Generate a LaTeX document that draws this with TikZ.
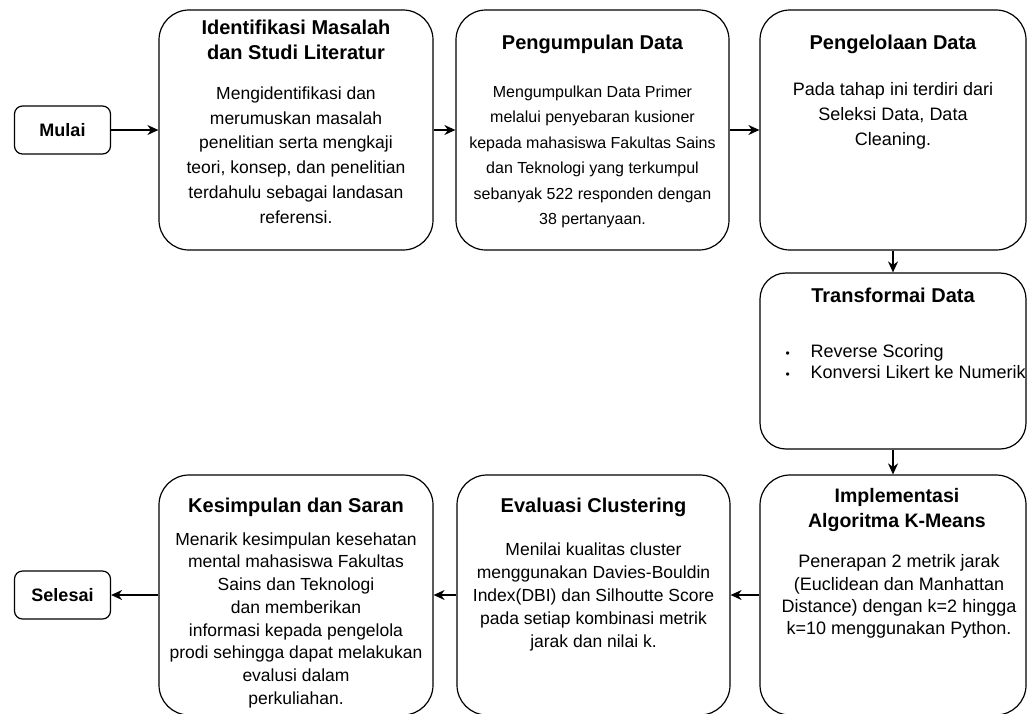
\documentclass[tikz,border=0pt]{standalone}
\usepackage{fontspec}
\setmainfont{Liberation Sans}
\usetikzlibrary{positioning,arrows.meta}

\begin{document}
\begin{tikzpicture}[x=1pt,y=-1pt,>={Stealth[length=11pt,width=10pt,inset=3.5pt]},
	tahap/.style={draw, line width=1.2pt, rounded corners=30pt, inner sep=0pt, minimum width=273pt, minimum height=240pt},
	ujung/.style={draw, line width=1.2pt, rounded corners=8pt, minimum width=96pt, minimum height=48pt, font=\fontsize{18}{20}\selectfont\bfseries},
	judul/.style={align=center, inner sep=0pt, font=\fontsize{20}{25}\selectfont\bfseries},
	isi/.style={align=center, inner sep=0pt, font=\fontsize{17.5}{#1}\selectfont},
	panah/.style={->, line width=1.2pt}]
	\useasboundingbox (0,0) rectangle (1027,713);

	% kotak-kotak
	\node[ujung] (mulai) at (62.5,130) {Mulai};
	\node[tahap, minimum width=274pt] (identifikasi) at (296,130) {};
	\node[tahap] (pengumpulan) at (592.5,130) {};
	\node[tahap, minimum width=266pt] (pengelolaan) at (893,130) {};
	\node[tahap, minimum width=266pt, minimum height=176pt, rounded corners=26pt] (transformasi) at (893,361) {};
	\node[tahap, minimum width=266pt] (implementasi) at (893,595) {};
	\node[tahap] (evaluasi) at (593.5,595) {};
	\node[tahap, minimum width=274pt] (kesimpulan) at (296,595) {};
	\node[ujung] (selesai) at (62.5,595) {Selesai};

	% teks
	\node[judul, below=10.8pt of identifikasi.north] (identifikasi-j) {Identifikasi Masalah\\dan Studi Literatur};
	\node[isi=24.8pt, below=77pt of identifikasi.north] (identifikasi-i) {Mengidentifikasi dan\\merumuskan masalah\\penelitian serta mengkaji\\teori, konsep, dan penelitian\\terdahulu sebagai landasan\\referensi.};
	\node[judul, below=25.8pt of pengumpulan.north] (pengumpulan-j) {Pengumpulan Data};
	\node[isi=25.4pt, font=\fontsize{16}{25.4}\selectfont, below=76.3pt of pengumpulan.north] (pengumpulan-i) {Mengumpulkan Data Primer\\melalui penyebaran kusioner\\kepada mahasiswa Fakultas Sains\\dan Teknologi yang terkumpul\\sebanyak 522 responden dengan\\38 pertanyaan.};
	\node[judul, below=25.8pt of pengelolaan.north] (pengelolaan-j) {Pengelolaan Data};
	\node[isi=25pt, font=\fontsize{18}{25}\selectfont, below=73pt of pengelolaan.north] (pengelolaan-i) {Pada tahap ini terdiri dari\\Seleksi Data, Data\\Cleaning.};
	\node[judul, below=15.8pt of transformasi.north] (transformasi-j) {Transformai Data};
	\node[isi=21pt, font=\fontsize{18}{21}\selectfont, align=left, below right=72pt and 26pt of transformasi.north west] (transformasi-i) {{\fontsize{12}{12}\selectfont\textbullet}\hspace{20.8pt}Reverse Scoring\\{\fontsize{12}{12}\selectfont\textbullet}\hspace{20.8pt}Konversi Likert ke Numerik};
	\node[judul, font=\fontsize{19.5}{24.5}\selectfont\bfseries, below=13.8pt of implementasi.north, xshift=4pt] (implementasi-j) {Implementasi\\Algoritma K-Means};
	\node[isi=22.4pt, font=\fontsize{18}{22.4}\selectfont, below=80pt of implementasi.north, xshift=6pt] (implementasi-i) {Penerapan 2 metrik jarak\\(Euclidean dan Manhattan\\Distance) dengan k=2 hingga\\k=10 menggunakan Python.};
	\node[judul, below=23.8pt of evaluasi.north] (evaluasi-j) {Evaluasi Clustering};
	\node[isi=23pt, below=68pt of evaluasi.north] (evaluasi-i) {Menilai kualitas cluster\\menggunakan Davies-Bouldin\\Index(DBI) dan Silhoutte Score\\pada setiap kombinasi metrik\\jarak dan nilai k.};
	\node[judul, below=23.8pt of kesimpulan.north] (kesimpulan-j) {Kesimpulan dan Saran};
	\node[isi=22.7pt, below=58pt of kesimpulan.north] (kesimpulan-i) {Menarik kesimpulan kesehatan\\mental mahasiswa Fakultas\\Sains dan Teknologi\\dan memberikan\\informasi kepada pengelola\\prodi sehingga dapat melakukan\\evalusi dalam\\perkuliahan.};

	% panah
	\draw[panah] (mulai.east) -- (identifikasi.west);
	\draw[panah] (identifikasi.east) -- (pengumpulan.west);
	\draw[panah] (pengumpulan.east) -- (pengelolaan.west);
	\draw[panah] (pengelolaan.south) -- (transformasi.north);
	\draw[panah] (transformasi.south) -- (implementasi.north);
	\draw[panah] (implementasi.west) -- (evaluasi.east);
	\draw[panah] (evaluasi.west) -- (kesimpulan.east);
	\draw[panah] (kesimpulan.west) -- (selesai.east);

\end{tikzpicture}
\end{document}
